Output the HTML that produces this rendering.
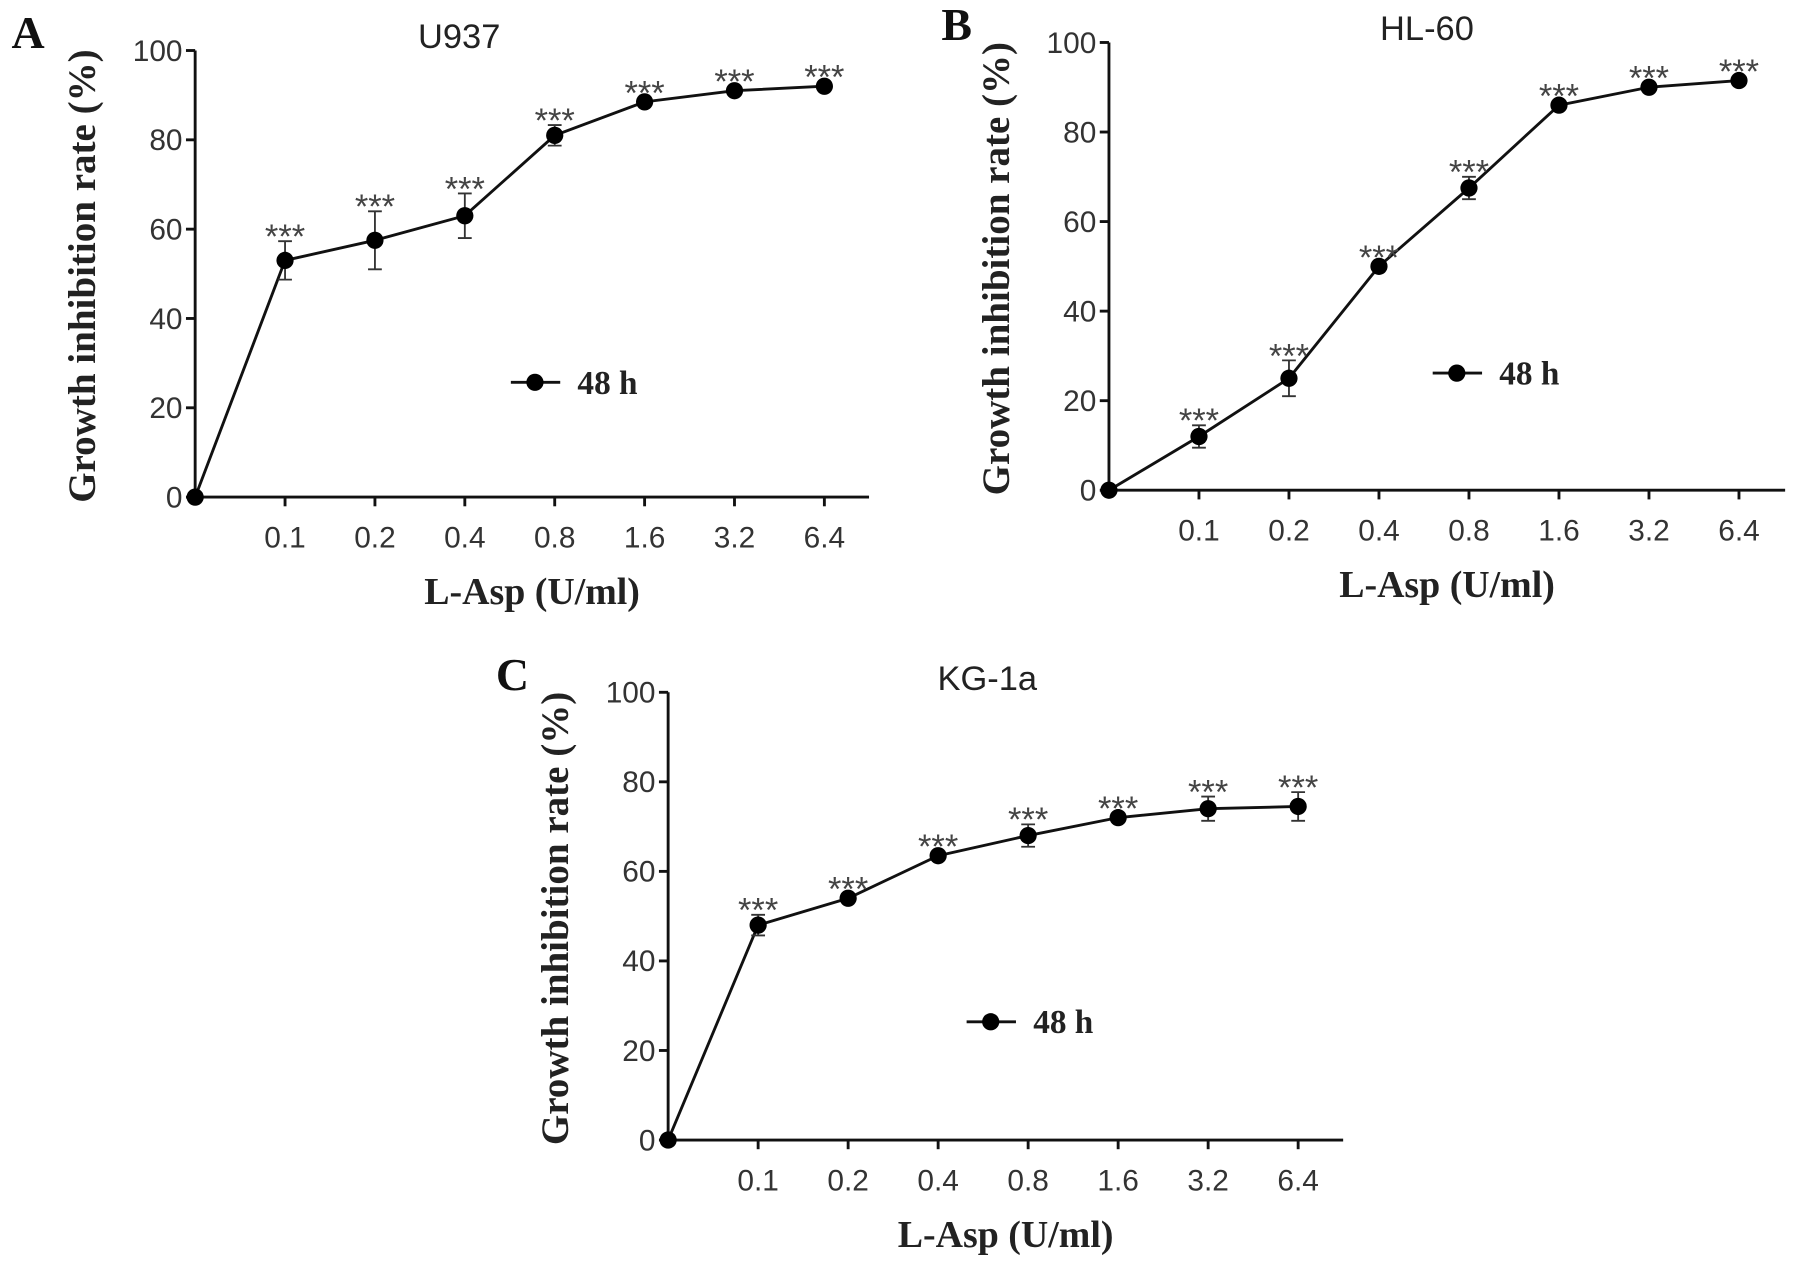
<!DOCTYPE html>
<html><head><meta charset="utf-8"><style>
html,body{margin:0;padding:0;background:#fff}
svg{display:block}
</style></head><body>
<svg id="fig" width="1795" height="1267" viewBox="0 0 1563.6 1103.6" preserveAspectRatio="none" xmlns="http://www.w3.org/2000/svg"></svg>
<script>
const categories = ["0","0.1","0.2","0.4","0.8","1.6","3.2","6.4"];
const yTicks = [0,20,40,60,80,100];
const u937Values = [0,53,57.5,63,81,88.5,91,92];
const u937Err = [0,4.3,6.5,5,2.3,1,1,1];
const hl60Values = [0,12,25,50,67.5,86,90,91.5];
const hl60Err = [0,2.5,4,1,2.5,1,1,1];
const kg1aValues = [0,48,54,63.5,68,72,74,74.5];
const kg1aErr = [0,2.3,1,1,2.5,1,2.7,3.2];

const NS="http://www.w3.org/2000/svg";
const svg=document.getElementById('fig');
function mk(tag,attrs,parent,text){const e=document.createElementNS(NS,tag);for(const k in attrs)e.setAttribute(k,attrs[k]);if(text!==undefined)e.textContent=text;(parent||svg).appendChild(e);return e;}

function panel(p){
  const g=mk('g',{});
  
  
  const yS=v=>p.y0+(p.y100-p.y0)*v/100;
  const xS=i=>p.x0+i*p.dx;
  const axis=mk('path',{d:`M${p.x0},${p.y100} L${p.x0},${p.y0} L${p.xEnd},${p.y0}`,stroke:'#111','stroke-width':2.5,fill:'none'},g);
  
  
  yTicks.forEach(t=>{
    const y=yS(t);
    mk('line',{x1:p.x0-8,x2:p.x0,y1:y,y2:y,stroke:'#111','stroke-width':2.5},g);
    const tl=mk('text',{x:p.x0-11,y:y+9,'text-anchor':'end','font-family':'Liberation Sans, sans-serif','font-size':26,fill:'#333'},g,String(t));
    
    
  });
  categories.forEach((c,i)=>{
    if(i===0)return;
    const x=xS(i);
    mk('line',{x1:x,x2:x,y1:p.y0,y2:p.y0+8,stroke:'#111','stroke-width':2.5},g);
    const tl=mk('text',{x:x,y:p.y0+44,'text-anchor':'middle','font-family':'Liberation Sans, sans-serif','font-size':26,fill:'#333'},g,c);
    
    
  });
  const vals=p.values, err=p.err;
  let d='';vals.forEach((v,i)=>{d+=(i?'L':'M')+xS(i)+','+yS(v)+' ';});
  const line=mk('path',{d:d,stroke:'#111','stroke-width':2.5,fill:'none'},g);
  
  
  vals.forEach((v,i)=>{
    const x=xS(i);
    if(err[i]>1.2){
      const e=mk('path',{d:`M${x},${yS(v-err[i])} L${x},${yS(v+err[i])} M${x-6},${yS(v-err[i])} L${x+6},${yS(v-err[i])} M${x-6},${yS(v+err[i])} L${x+6},${yS(v+err[i])}`,stroke:'#333','stroke-width':1.6,fill:'none'},g);
      
      
    }
    const pt=mk('circle',{cx:x,cy:yS(v),r:7.5,fill:'#000'},g);
    
    
    if(i>0){
      const top=yS(v+Math.max(err[i],1));
      const s=mk('text',{x:x,y:top+6,'text-anchor':'middle','font-family':'Liberation Sans, sans-serif','font-size':30,fill:'#444'},g,'***');
      
      
    }
  });
  const t=mk('text',{x:p.titleX,y:p.y100-2,'text-anchor':'middle','font-family':'Liberation Sans, sans-serif','font-size':30,fill:'#222'},g,p.title);
  
  
  const L=mk('text',{x:p.letterX,y:p.y100-2,'font-family':'Liberation Serif, serif','font-weight':'bold','font-size':40,fill:'#111'},g,p.id);
  
  
  const xt=mk('text',{x:(p.x0+p.xEnd)/2,y:p.y0+93,'text-anchor':'middle','font-family':'Liberation Serif, serif','font-weight':'bold','font-size':33,fill:'#222'},g,'L-Asp (U/ml)');
  
  
  const cy=(p.y0+p.y100)/2+2;
  const yt=mk('text',{x:p.x0-95,y:cy,'text-anchor':'middle',transform:`rotate(-90 ${p.x0-95} ${cy})`,'dominant-baseline':'middle','font-family':'Liberation Serif, serif','font-weight':'bold','font-size':34,fill:'#222'},g,'Growth inhibition rate (%)');
  
  
  const lg=mk('g',{},g);
  
  
  mk('line',{x1:p.legX,x2:p.legX+43,y1:p.legY,y2:p.legY,stroke:'#111','stroke-width':2.5},lg);
  mk('circle',{cx:p.legX+21,cy:p.legY,r:7.5,fill:'#000'},lg);
  mk('text',{x:p.legX+58,y:p.legY+10,'font-family':'Liberation Serif, serif','font-weight':'bold','font-size':29,fill:'#222'},lg,'48 h');
}
panel({id:'A',title:'U937',values:u937Values,err:u937Err,x0:170,y0:433,y100:44,xEnd:757,dx:78.3,titleX:400,letterX:10,legX:445,legY:333});
panel({id:'B',title:'HL-60',values:hl60Values,err:hl60Err,x0:966,y0:427,y100:37,xEnd:1555,dx:78.4,titleX:1243,letterX:820,legX:1248,legY:325});
panel({id:'C',title:'KG-1a',values:kg1aValues,err:kg1aErr,x0:582,y0:993,y100:603,xEnd:1170,dx:78.4,titleX:860,letterX:432,legX:842,legY:890});
</script>
</body></html>
